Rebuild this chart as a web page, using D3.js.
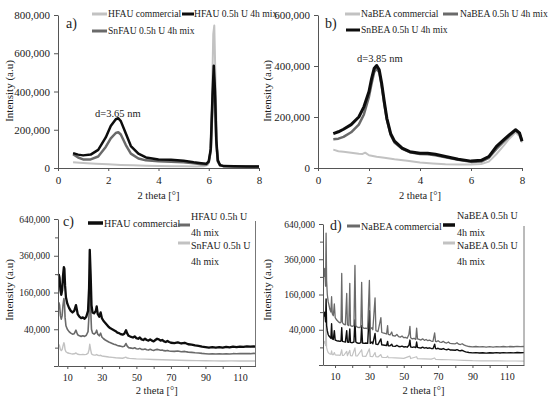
<!DOCTYPE html>
<html><head><meta charset="utf-8">
<script src="https://cdn.jsdelivr.net/npm/d3@7"></script>
<style>
body{margin:0;background:#fff;}
</style></head>
<body><svg id="c" width="550" height="398" font-family="'Liberation Serif', 'Times New Roman', Times, serif"></svg>
<script>
// ---------- DATA ----------
// Panel a (2 theta deg, intensity)
const a_HFAU_commercial = [[0.6,30000],[1.0,26000],[1.5,22000],[2.0,19000],[2.5,16000],[3.0,14000],[3.5,12000],[4.0,10500],[4.5,9500],[5.0,8500],[5.5,8000],[5.8,8500],[5.95,15000],[6.05,60000],[6.12,300000],[6.18,700000],[6.22,745000],[6.27,450000],[6.33,100000],[6.4,25000],[6.5,12000],[7.0,9000],[7.5,8000],[8.0,7000]];
const a_SnFAU = [[0.6,72000],[0.8,55000],[1.0,45000],[1.3,45000],[1.6,60000],[1.9,110000],[2.1,155000],[2.3,183000],[2.4,187000],[2.5,175000],[2.7,120000],[2.9,75000],[3.2,50000],[3.5,40000],[4.0,35000],[4.5,33000],[5.0,30000],[5.4,25000],[5.7,20000],[5.9,18000],[6.0,30000],[6.08,90000],[6.15,340000],[6.2,480000],[6.25,360000],[6.3,130000],[6.36,35000],[6.45,14000],[6.6,9000],[7.0,8000],[7.5,7500],[8.0,7000]];
const a_HFAU_mix = [[0.6,78000],[0.8,70000],[1.0,66000],[1.3,70000],[1.6,95000],[1.9,160000],[2.1,220000],[2.3,255000],[2.4,260000],[2.5,245000],[2.7,180000],[2.9,115000],[3.2,75000],[3.5,55000],[4.0,45000],[4.5,43000],[5.0,38000],[5.4,30000],[5.7,25000],[5.9,22000],[6.0,35000],[6.08,100000],[6.15,380000],[6.2,535000],[6.25,400000],[6.3,150000],[6.36,40000],[6.45,15000],[6.6,10000],[7.0,9000],[7.5,8000],[8.0,7500]];
const a_xTicks = [0,2,4,6,8];
const a_yTicks = [0,200000,400000,600000,800000];

// Panel b
const b_NaBEA_commercial = [[0.6,72000],[0.8,66000],[1.0,64000],[1.3,60000],[1.6,56000],[1.75,55000],[1.85,60000],[2.0,50000],[2.3,44000],[2.6,40000],[3.0,34000],[3.5,28000],[4.0,22000],[4.5,18000],[5.0,15000],[5.5,14000],[6.0,14000],[6.4,16000],[6.7,25000],[7.0,55000],[7.3,90000],[7.5,115000],[7.75,140000],[7.9,125000],[8.0,100000]];
const b_NaBEA_mix = [[0.6,113000],[0.8,115000],[1.0,122000],[1.3,140000],[1.6,170000],[1.8,210000],[2.0,280000],[2.1,330000],[2.2,375000],[2.3,390000],[2.4,375000],[2.5,320000],[2.6,250000],[2.7,190000],[2.85,130000],[3.0,100000],[3.3,75000],[3.6,62000],[4.0,55000],[4.3,54000],[4.6,50000],[5.0,42000],[5.5,32000],[6.0,24000],[6.4,25000],[6.7,40000],[7.0,75000],[7.3,105000],[7.5,125000],[7.75,148000],[7.9,135000],[8.0,108000]];
const b_SnBEA_mix = [[0.6,135000],[0.8,142000],[1.0,152000],[1.3,170000],[1.6,200000],[1.8,240000],[2.0,300000],[2.1,350000],[2.2,390000],[2.3,402000],[2.4,385000],[2.5,330000],[2.6,260000],[2.7,195000],[2.85,135000],[3.0,105000],[3.3,78000],[3.6,64000],[4.0,58000],[4.3,58000],[4.6,54000],[5.0,45000],[5.5,34000],[6.0,27000],[6.4,30000],[6.7,45000],[7.0,85000],[7.3,112000],[7.5,130000],[7.75,150000],[7.9,138000],[8.0,105000]];
const b_xTicks = [0,2,4,6,8];
const b_yTicks = [0,200000,400000,600000];

// Panel c
const c_HFAU_commercial = [[5,250000],[5.5,230000],[6,170000],[6.5,150000],[7,170000],[7.5,240000],[8,290000],[8.3,280000],[8.7,190000],[9.2,140000],[10,115000],[11,100000],[12,90000],[13,85000],[14,90000],[15,110000],[15.5,95000],[16,80000],[17,72000],[18,68000],[19,70000],[20,66000],[21,72000],[22,90000],[22.6,180000],[23,400000],[23.5,250000],[24,110000],[24.6,85000],[25.5,82000],[26.5,90000],[27,105000],[27.6,80000],[28.5,72000],[29.3,85000],[30,68000],[31,60000],[32,55000],[33,50000],[34,45000],[35,42000],[36,40000],[37,38000],[38,36000],[39,33000],[40,32000],[41,30000],[42,29000],[43,31000],[44,38000],[44.6,32000],[45.5,27000],[47,25000],[48,24000],[49,26000],[50,23000],[51,22000],[52,24000],[53,21000],[54,20000],[55,22000],[56,20000],[57,19000],[58,21000],[59,19000],[60,18000],[61,20000],[62,22000],[63,21000],[64,19000],[65,20000],[66,18000],[67,17000],[68,18500],[69,17000],[70,16000],[72,15500],[74,16500],[76,15000],[78,16000],[80,14000],[82,13500],[84,12500],[86,12000],[88,11000],[90,10500],[92,10000],[94,10500],[96,10000],[98,10500],[100,10000],[102,10800],[104,10200],[106,11000],[108,10500],[110,11200],[112,10800],[114,11500],[116,11000],[118,11500],[119,11200]];
const c_HFAU_mix = [[5,120000],[5.5,110000],[6,75000],[6.5,65000],[7,75000],[7.5,110000],[8,135000],[8.3,125000],[8.7,70000],[9.2,48000],[10,40000],[11,35000],[12,32000],[13,30000],[14,31000],[15,38000],[15.5,33000],[16,29000],[17,27000],[18,26000],[19,27000],[20,26000],[21,28000],[22,35000],[22.6,80000],[23,190000],[23.5,100000],[24,40000],[24.6,32000],[25.5,30000],[26.5,33000],[27,38000],[27.6,30000],[28.5,27000],[29.3,32000],[30,25000],[31,22000],[32,20000],[33,18500],[34,17000],[35,16000],[36,15000],[37,14000],[38,13500],[39,12500],[40,12000],[41,11500],[42,11000],[43,11500],[44,15000],[44.6,12000],[45.5,10000],[47,9500],[48,9000],[49,9800],[50,8800],[51,8500],[52,9200],[53,8200],[54,8000],[55,8600],[56,7800],[57,7500],[58,8200],[59,7600],[60,7200],[61,7800],[62,8200],[63,7800],[64,7300],[65,7600],[66,7000],[67,6800],[68,7200],[69,6700],[70,6500],[72,6300],[74,6600],[76,6000],[78,6300],[80,5700],[82,5500],[84,5200],[86,5000],[88,4700],[90,4500],[92,4300],[94,4400],[96,4300],[98,4400],[100,4300],[102,4500],[104,4300],[106,4500],[108,4400],[110,4600],[112,4500],[114,4600],[116,4500],[118,4700],[119,4600]];
const c_SnFAU_mix = [[5,14000],[5.5,12000],[6,8000],[6.5,7000],[7,8000],[7.5,12000],[8,16000],[8.3,14000],[8.7,8000],[9.2,6000],[10,5200],[11,4800],[12,4500],[13,4300],[14,4400],[15,5000],[15.5,4500],[16,4100],[17,3900],[18,3800],[19,3900],[20,3800],[21,4000],[22,4800],[22.6,8000],[23,14000],[23.5,8000],[24,4500],[24.6,3800],[25.5,3500],[26.5,3600],[27,3900],[27.6,3400],[28.5,3200],[29.3,3400],[30,3000],[32,2700],[34,2400],[36,2200],[38,2000],[40,1900],[42,1800],[44,2300],[44.6,1900],[46,1700],[50,1500],[55,1400],[60,1250],[65,1150],[70,1050],[75,1000],[80,900],[85,850],[90,800],[95,780],[100,760],[105,770],[110,750],[115,760],[119,750]];
const cd_xTicks = [10,20,30,40,50,60,70,80,90,100,110];
const cd_yTicks = [0,40000,160000,360000,640000];
const cd_yMinor = [10000,90000,250000,490000];

// Panel d
const d_NaBEA_commercial = [[3.5,250000],[4,300000],[4.5,200000],[4.8,560000],[5.1,230000],[5.5,160000],[6,130000],[6.5,115000],[7,100000],[7.6,90000],[8,150000],[8.4,85000],[9,78000],[9.6,120000],[10.1,72000],[11,65000],[12,60000],[13,57000],[13.5,60000],[13.9,270000],[14.3,58000],[15,54000],[16,52000],[16.8,165000],[17.2,52000],[18,50000],[18.6,215000],[19,50000],[20,48000],[21,50000],[21.6,320000],[22.1,50000],[23,46000],[24,45000],[25,47000],[25.5,220000],[26,46000],[27,43000],[28,44000],[29,42000],[30,230000],[30.5,41000],[31.5,45000],[32,40000],[33.3,145000],[33.8,38000],[35,36000],[36.7,72000],[37.2,34000],[38,33000],[39,32000],[40,31000],[40.6,50000],[41,30000],[42,29000],[43,35000],[43.5,28000],[45,27000],[46,30000],[47,26000],[48,25000],[49,27000],[50,24000],[51,24500],[52,23000],[53,30000],[53.6,48000],[54,24000],[55,22000],[56,23000],[57,21000],[57.5,44000],[58,22000],[59,21000],[60,20000],[61,22000],[62,19500],[63,21000],[64,19000],[65,20000],[66,18500],[67,18000],[68,33000],[68.5,18000],[69,17500],[70,19000],[71,17000],[72,16500],[73,18000],[74,16000],[75,15500],[76,17000],[77,15000],[78,14800],[80,14500],[81,16000],[82,14000],[83,13500],[84,14500],[85,13000],[86,12000],[88,11000],[90,10500],[92,11000],[94,10500],[96,10800],[98,10300],[100,10800],[102,10400],[104,10900],[106,10500],[108,11000],[110,10600],[112,11000],[114,10700],[116,11200],[118,10800],[120,11000]];
const d_NaBEA_mix1 = [[3.5,75000],[4,90000],[4.5,60000],[4.8,140000],[5.1,50000],[5.5,38000],[6,30000],[6.5,27000],[7,25000],[7.6,23000],[8,55000],[8.4,22000],[9,21000],[9.6,38000],[10.1,20000],[11,19000],[12,18500],[13,18000],[13.5,19000],[13.9,45000],[14.3,18000],[15,17500],[16,17000],[16.8,38000],[17.2,17000],[18,16500],[18.6,42000],[19,16500],[20,16000],[21,17000],[21.6,65000],[22.1,17000],[23,15500],[24,15000],[25,16000],[25.5,50000],[26,15500],[27,15000],[28,15500],[29,15000],[30,95000],[30.5,15000],[31.5,17000],[32,14500],[33.3,32000],[33.8,14000],[35,13500],[36.7,22000],[37.2,13000],[38,12800],[39,12500],[40,12200],[40.6,18000],[41,12000],[42,11800],[43,14000],[43.5,11500],[45,11200],[46,12500],[47,11000],[48,10800],[49,11500],[50,10500],[51,10800],[52,10200],[53,12500],[53.6,20000],[54,10500],[55,10000],[56,10500],[57,9800],[57.5,17000],[58,10000],[59,9600],[60,9300],[61,10200],[62,9200],[63,9800],[64,9000],[65,9500],[66,8800],[67,8600],[68,14000],[68.5,8600],[69,8400],[70,9000],[71,8200],[72,8000],[73,8700],[74,7800],[75,7500],[76,8200],[77,7300],[78,7200],[80,7000],[81,7600],[82,6800],[83,6500],[84,7000],[85,6200],[86,5500],[88,5000],[90,4700],[92,4900],[94,4600],[96,4800],[98,4500],[100,4800],[102,4600],[104,4900],[106,4600],[108,4900],[110,4700],[112,4900],[114,4700],[116,5000],[118,4800],[120,4900]];
const d_NaBEA_mix2 = [[3.5,15000],[4,18000],[4.5,12000],[4.8,60000],[5.1,10000],[5.5,7000],[6,5000],[6.5,4300],[7,4000],[7.6,3700],[8,6500],[8.4,3500],[9,3400],[9.6,5000],[10.1,3300],[11,3200],[12,3100],[13,3000],[13.9,7500],[14.3,3000],[15,2900],[16.8,6000],[17.2,2800],[18.6,7000],[19,2800],[20,2700],[21.6,9500],[22.1,2700],[23,2600],[25.5,7500],[26,2500],[28,2450],[30,8500],[30.5,2400],[32,2300],[33.3,5000],[33.8,2200],[35,2100],[36.7,3500],[37.2,2000],[38,1900],[40,1800],[40.6,2600],[41,1750],[43,1700],[45,1600],[48,1500],[50,1400],[53.6,2500],[54,1350],[57.5,2200],[58,1300],[62,1200],[66,1100],[68,1600],[68.5,1050],[72,950],[76,880],[80,800],[85,700],[90,600],[95,560],[100,540],[105,530],[110,520],[115,510],[120,500]];

const colLight = "#c2c2c2", colDark = "#6a6a6a", colBlack = "#0d0d0d";
const FONT = "'Liberation Serif', 'Times New Roman', Times, serif";

// ---------- DRAW ----------
const svg = d3.select("#c");
const fmt = d3.format(",");

function txt(sel){ return sel.attr("font-family",FONT).attr("fill","#222"); }

function panel(cfg){
  const g = svg.append("g");
  const x = d3.scaleLinear().domain(cfg.xd).range(cfg.xr);
  const y = (cfg.sqrt ? d3.scaleSqrt() : d3.scaleLinear()).domain(cfg.yd).range(cfg.yr);
  const line = d3.line().x(d=>x(d[0])).y(d=>y(d[1]));
  cfg.series.forEach(s=>{
    g.append("path").datum(s.data).attr("d",line).attr("fill","none")
      .attr("stroke",s.color).attr("stroke-width",s.w).attr("stroke-linejoin","round");
  });
  const ya = g.append("g").attr("transform",`translate(${cfg.xr[0]},0)`)
    .call(d3.axisLeft(y).tickValues(cfg.yTicks).tickFormat(d=> (cfg.hideZero && d===0) ? "" : fmt(d)).tickSize(4).tickSizeOuter(0));
  txt(ya.selectAll("text")).attr("font-size",cfg.tickFont||11).attr("dx",-1);
  ya.selectAll("line,path").attr("stroke","#555");
  if(cfg.yMinor){
    g.append("g").attr("transform",`translate(${cfg.xr[0]},0)`)
      .call(d3.axisLeft(y).tickValues(cfg.yMinor).tickFormat("").tickSize(3).tickSizeOuter(0))
      .call(s=>{s.select(".domain").remove(); s.selectAll("line").attr("stroke","#555");});
  }
  const xa = g.append("g").attr("transform",`translate(0,${cfg.yr[0]})`)
    .call(d3.axisBottom(x).tickValues(cfg.xTicks).tickFormat(cfg.xFmt || (d=>d)).tickSize(3).tickSizeOuter(0));
  txt(xa.selectAll("text")).attr("font-size",cfg.xTickFont||11).attr("dy","0.9em");
  xa.selectAll("line,path").attr("stroke","#555");
  if(cfg.rightBorder){
    g.append("line").attr("x1",cfg.xr[1]).attr("x2",cfg.xr[1]).attr("y1",cfg.yr[1]+2).attr("y2",cfg.yr[0])
      .attr("stroke","#777").attr("stroke-width",1);
  }
  txt(g.append("text")).attr("x",(cfg.xr[0]+cfg.xr[1])/2).attr("y",cfg.xTitleY).attr("text-anchor","middle")
    .attr("font-size",10.5).text("2 theta [°]");
  txt(g.append("text")).attr("transform",`translate(${cfg.yTitleX},${cfg.yTitleY}) rotate(-90)`)
    .attr("text-anchor","middle").attr("font-size",11).text("Intensity (a.u)");
  txt(g.append("text")).attr("x",cfg.label[0]).attr("y",cfg.label[1]).attr("font-size",14).text(cfg.label[2]);
  (cfg.notes||[]).forEach(n=>{
    txt(g.append("text")).attr("x",n[0]).attr("y",n[1]).attr("font-size",10.5).text(n[2]);
  });
  cfg.legend.forEach(L=>{
    g.append("line").attr("x1",L.x1).attr("x2",L.x2).attr("y1",L.y).attr("y2",L.y)
      .attr("stroke",L.color).attr("stroke-width",L.w||3);
    L.text.forEach(t=>{
      txt(g.append("text")).attr("x",t[0]).attr("y",t[1]).attr("dy","0.35em").attr("font-size",cfg.legendFont||10).text(t[2]);
    });
  });
}

panel({
  xd:[0,8], xr:[58,259], yd:[0,800000], yr:[168,15],
  xTicks:a_xTicks, yTicks:a_yTicks, legendFont:9.6,
  series:[{data:a_HFAU_commercial,color:colLight,w:2},{data:a_SnFAU,color:colDark,w:2.5},{data:a_HFAU_mix,color:colBlack,w:2.5}],
  xTitleY:199, yTitleX:13, yTitleY:91, label:[66,28,"a)"],
  notes:[[95,117,"d=3.65 nm"]],
  legend:[
    {x1:92,x2:107,y:14,color:colLight,text:[[108,14,"HFAU commercial"]]},
    {x1:182,x2:194,y:14,color:colBlack,text:[[194,14,"HFAU 0.5h U 4h mix"]]},
    {x1:92,x2:107,y:31,color:colDark,text:[[108,31,"SnFAU 0.5h U 4h mix"]]}
  ]
});

panel({
  xd:[0,8], xr:[318,522], yd:[0,600000], yr:[168,15],
  xTicks:b_xTicks, yTicks:b_yTicks, legendFont:9.6,
  series:[{data:b_NaBEA_commercial,color:colLight,w:2},{data:b_NaBEA_mix,color:colDark,w:2.5},{data:b_SnBEA_mix,color:colBlack,w:3}],
  xTitleY:199, yTitleX:271, yTitleY:91, label:[325,28,"b)"],
  notes:[[357,62,"d=3.85 nm"]],
  legend:[
    {x1:345,x2:360,y:14,color:colLight,text:[[361,14,"NaBEA commercial"]]},
    {x1:443,x2:458,y:14,color:colDark,text:[[460,14,"NaBEA 0.5h U 4h mix"]]},
    {x1:346,x2:360,y:30,color:colBlack,text:[[361,30,"SnBEA 0.5h U 4h mix"]]}
  ]
});

panel({
  xd:[4.6,119], xr:[58,255.5], yd:[0,640000], yr:[366,219], sqrt:true,
  xTicks:cd_xTicks, yTicks:cd_yTicks, yMinor:cd_yMinor, hideZero:true, tickFont:9.5, xTickFont:10,
  xFmt: d => ((d/10)%2===1 ? d : ""), rightBorder:true,
  series:[{data:c_SnFAU_mix,color:colLight,w:1.4},{data:c_HFAU_mix,color:colDark,w:1.6},{data:c_HFAU_commercial,color:colBlack,w:2.3}],
  xTitleY:394, yTitleX:13, yTitleY:290, label:[63,226,"c)"],
  legend:[
    {x1:88,x2:103,y:223,color:colBlack,w:3.5,text:[[104,223,"HFAU commercial"]]},
    {x1:178,x2:190,y:225,color:colDark,text:[[191,216,"HFAU 0.5h U"],[191,232,"4h mix"]]},
    {x1:178,x2:190,y:243,color:colLight,text:[[191,245,"SnFAU 0.5h U"],[191,261,"4h mix"]]}
  ]
});

panel({
  xd:[3,120], xr:[323,524], yd:[0,640000], yr:[365,224], sqrt:true,
  xTicks:cd_xTicks, yTicks:cd_yTicks, yMinor:cd_yMinor, hideZero:true, tickFont:9.5, xTickFont:10,
  xFmt: d => ((d/10)%2===1 ? d : ""), rightBorder:true,
  series:[{data:d_NaBEA_mix2,color:colLight,w:1.2},{data:d_NaBEA_mix1,color:colBlack,w:1.4},{data:d_NaBEA_commercial,color:colDark,w:1.3}],
  xTitleY:394, yTitleX:271, yTitleY:290, label:[330,230,"d)"],
  legend:[
    {x1:347,x2:360,y:226,color:colDark,text:[[361,226,"NaBEA commercial"]]},
    {x1:443,x2:455,y:225,color:colBlack,w:3.5,text:[[457,215,"NaBEA 0.5h U"],[457,232,"4h mix"]]},
    {x1:443,x2:455,y:243,color:colLight,text:[[457,245,"NaBEA 0.5h U"],[457,261,"4h mix"]]}
  ]
});
</script></body></html>
